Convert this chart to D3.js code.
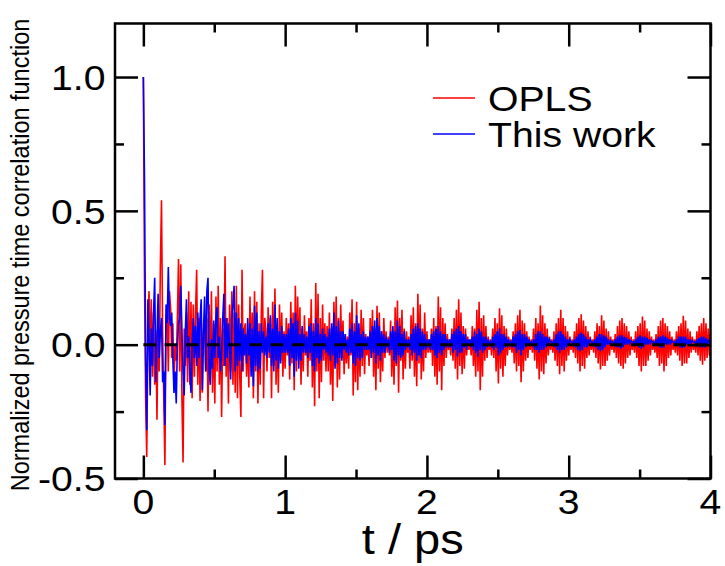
<!DOCTYPE html>
<html>
<head>
<meta charset="utf-8">
<script src="https://cdn.jsdelivr.net/npm/d3@7"></script>
<style>
  body { margin: 0; background: #fff; }
  text { font-family: "Liberation Sans", Arial, Helvetica, sans-serif; fill: #000; }
</style>
</head>
<body>
<script>
// sampling step of both correlation functions (ps)
const dt = 0.008;

// OPLS, one row per beat (18 samples)
const oplsValues = [
  1.0,.25,-.2,-.42,.05,.2,-.05,.17,-.12,.12,-.15,.05,-.28,.1,-.1,.3,.54,.05,
  -.2,-.45,.1,.15,-.1,.2,.14,-.05,.08,-.15,0,-.06,.1,.32,-.1,.3,-.2,-.44,
  .06,-.08,.12,-.14,.2,-.15,.16,-.2,.15,-.12,.12,.28,-.15,.1,-.21,.12,-.18,.05,
  .05,-.1,.1,-.25,.15,-.12,.2,-.18,.08,-.22,.18,-.1,.22,-.15,.1,-.27,.06,-.08,
  .33,-.12,.1,-.22,.15,-.1,.2,-.15,.12,-.18,.22,-.2,.15,-.12,-.27,.28,-.1,.06,
  .08,-.12,.05,-.16,.18,-.06,.12,-.2,.2,-.1,.16,-.22,.08,-.15,.12,.28,-.2,.1,
  .06,-.1,.14,-.05,.1,-.2,.16,-.08,.21,-.15,.07,-.18,.15,-.06,.12,-.12,.05,-.09,
  .1,-.04,.08,-.13,.16,-.07,.12,-.17,.22,-.1,.18,-.05,.14,-.15,.06,-.1,.11,-.04,
  .05,-.12,.1,-.06,.17,-.16,.08,-.23,.23,-.1,.19,-.2,.1,-.14,.15,-.06,.08,-.1,
  .07,-.1,.12,-.15,.06,-.21,.16,-.08,.18,-.16,.1,-.13,.15,-.05,.09,-.11,.04,-.07,
  .03,-.09,.12,-.04,.17,-.19,.08,-.14,.16,-.17,.06,-.12,.13,-.08,.1,-.11,.04,-.04,
  .03,-.08,.1,-.05,.13,-.12,.06,-.17,.145,-.09,.12,-.14,.05,-.1,.1,-.05,.05,-.03,
  .03,-.04,.09,-.12,.05,-.15,.14,-.08,.165,-.18,.1,-.06,.13,-.13,.06,-.09,.05,-.03,
  .03,-.09,.11,-.06,.14,-.12,.08,-.155,.19,-.07,.15,-.13,.06,-.1,.12,-.05,.05,-.03,
  .02,-.03,.06,-.08,.1,-.12,.07,-.15,.18,-.1,.14,-.17,.1,-.08,.08,-.05,.04,-.02,
  .02,-.04,.06,-.06,.1,-.09,.13,-.13,.17,-.08,.12,-.11,.07,-.09,.06,-.04,.03,-.02,
  .02,-.04,.07,-.08,.06,-.12,.13,-.1,.16,-.17,.1,-.12,.11,-.06,.07,-.05,.03,-.02,
  .02,-.04,.06,-.05,.1,-.1,.08,-.145,.136,-.09,.11,-.12,.07,-.08,.06,-.04,.03,-.02,
  .02,-.03,.05,-.07,.08,-.1,.11,-.08,.13,-.14,.09,-.1,.08,-.06,.05,-.05,.03,-.02,
  .02,-.03,.06,-.06,.1,-.09,.08,-.13,.146,-.1,.11,-.11,.08,-.07,.06,-.04,.03,-.02,
  .02,-.03,.05,-.06,.08,-.08,.1,-.11,.13,-.08,.1,-.1,.07,-.06,.05,-.04,.03,-.02,
  .02,-.03,.05,-.05,.08,-.07,.1,-.1,.114,-.08,.09,-.09,.07,-.05,.05,-.04,.03,-.02,
  .02,-.03,.05,-.05,.08,-.07,.07,-.093,.11,-.08,.09,-.08,.06,-.06,.05,-.04,.03,-.02,
  .02,-.03,.04,-.05,.07,-.07,.09,-.08,.1,-.09,.08,-.07,.07,-.05,.05,-.04,.03,-.02,
  .02,-.03,.05,-.05,.07,-.08,.08,-.1,.105,-.08,.09,-.08,.06,-.06,.05,-.04,.03,-.02,
  .02,-.03,.04,-.05,.07,-.08,.09,-.07,.1,-.1,.08,-.08,.07,-.05,.05,-.04,.03,-.02,
  .02,-.03,.05,-.04,.07,-.06,.08,-.08,.108,-.07,.09,-.07,.06,-.05,.05,-.03,.03,-.02,
  .02,-.03,.05,-.04,.07,-.06,.08,-.075,.1,-.06,.08,-.05,.06,-.04,.04
];

// This work
const thisWorkValues = [
  1.0,.62,-.05,-.32,.17,.02,-.19,.06,-.08,.12,.25,-.14,.02,.19,-.05,.05,.1,-.14,
  -.1,-.3,.15,.08,.29,.1,.07,.12,-.05,-.18,-.1,-.22,0,.08,.1,.22,.05,-.1,
  -.19,.05,.17,-.05,.03,-.1,-.18,0,.1,-.05,.07,-.08,.12,-.05,.1,.17,-.17,.05,
  .18,-.1,.2,.25,-.1,-.15,.02,-.09,.09,-.05,.1,.14,-.05,.03,-.1,-.03,.1,.19,
  -.08,.1,-.05,.08,-.01,-.13,.1,.15,.22,-.1,.12,-.08,.1,-.06,.08,-.1,.06,-.04,
  .04,-.07,.1,-.04,.08,-.12,.06,-.155,.145,-.08,.12,-.1,.05,-.09,.08,-.03,.05,-.04,
  .03,-.05,.08,-.03,.11,-.08,.06,-.1,.15,-.06,.1,-.09,.05,-.07,.07,-.03,.04,-.03,
  .04,-.03,.06,-.08,.1,-.05,.08,-.12,.12,-.06,.09,-.09,.04,-.06,.07,-.03,.04,-.03,
  .03,-.05,.07,-.03,.08,-.08,.05,-.1,.1,-.05,.08,-.07,.04,-.06,.06,-.02,.04,-.03,
  .03,-.04,.06,-.06,.08,-.04,.12,-.09,.07,-.07,.09,-.05,.05,-.06,.05,-.02,.04,-.03,
  .02,-.04,.06,-.03,.08,-.07,.05,-.08,.11,-.05,.08,-.06,.04,-.05,.05,-.02,.03,-.02,
  .03,-.02,.05,-.05,.07,-.03,.09,-.07,.1,-.04,.07,-.06,.05,-.03,.04,-.03,.03,-.01,
  .02,-.03,.05,-.02,.07,-.06,.05,-.07,.09,-.04,.07,-.05,.04,-.04,.05,-.02,.02,-.01,
  .02,-.02,.04,-.04,.06,-.03,.07,-.06,.08,-.04,.06,-.05,.05,-.02,.04,-.02,.02,-.01,
  .02,-.02,.04,-.02,.05,-.04,.06,-.05,.07,-.03,.05,-.04,.04,-.02,.04,-.01,.02,-.01,
  .02,-.01,.04,-.03,.05,-.02,.06,-.045,.07,-.03,.05,-.03,.04,-.01,.04,-.02,.02,0,
  .02,-.01,.03,-.02,.05,-.03,.04,-.045,.06,-.02,.05,-.03,.03,-.02,.03,-.01,.02,0,
  .01,-.01,.03,-.02,.04,-.01,.05,-.04,.06,-.03,.04,-.02,.04,-.01,.03,-.01,.02,0,
  .01,-.01,.03,-.01,.04,-.03,.05,-.02,.055,-.04,.04,-.02,.04,-.01,.03,0,.02,0,
  .01,0,.02,-.02,.04,-.02,.05,-.03,.05,-.02,.04,-.02,.03,-.01,.03,0,.02,.01,
  .01,0,.02,-.01,.04,-.02,.05,-.03,.05,-.02,.04,-.02,.03,-.01,.02,0,.02,.01,
  .01,0,.02,-.01,.03,-.02,.04,-.025,.045,-.02,.04,-.01,.03,-.01,.02,0,.02,.01,
  .01,0,.02,-.01,.03,-.02,.04,-.025,.04,-.02,.035,-.01,.03,0,.02,0,.015,.01,
  .01,0,.02,-.01,.03,-.01,.035,-.015,.035,-.01,.03,0,.025,0,.02,.005,.015,.01,
  .01,0,.02,0,.03,-.01,.035,-.015,.03,-.01,.03,0,.025,0,.02,.005,.015,.01,
  .01,0,.02,0,.03,-.01,.03,-.012,.035,-.01,.03,0,.025,0,.02,.005,.015,.01,
  .01,0,.02,0,.03,-.01,.03,-.012,.03,-.01,.03,0,.02,0,.02,.005,.015,.01,
  .01,0,.02,0,.025,-.01,.03,-.01,.03,-.01,.025,0,.02,0,.015
];

const seriesNames = ['OPLS', 'This work'];
const seriesColors = ['#ff0000', '#0000ff'];
const xTicks = [0, 1, 2, 3, 4];
const xMinorTicks = [0.5, 1.5, 2.5, 3.5];
const yTicks = [-0.5, 0, 0.5, 1.0];
const yMinorTicks = [-0.25, 0.25, 0.75];
const xLabel = 't / ps';
const yLabel = 'Normalized pressure time correlation function';

const w = 725, h = 566;
const padL = 115, padR = 710.5, padT = 23.5, padB = 478.5;
const sx = 1.12; // the glyphs in the picture are a little wide

const svg = d3.select('body').append('svg')
  .attr('width', w)
  .attr('height', h);

const xScale = d3.scaleLinear().domain([-0.2, 4]).range([padL, padR]);
const yScale = d3.scaleLinear().domain([-0.5, 1.2]).range([padB, padT]);

svg.append('clipPath').attr('id', 'plot-clip')
  .append('rect')
  .attr('x', padL).attr('y', padT)
  .attr('width', padR - padL).attr('height', padB - padT);

const line = d3.line()
  .x(d => xScale(d[0]))
  .y(d => yScale(d[1]));

const series = [oplsValues, thisWorkValues].map(vals => vals.map((v, i) => [i * dt, v]));

const plot = svg.append('g').attr('clip-path', 'url(#plot-clip)');
series.forEach((s, k) => {
  plot.append('path')
    .datum(s)
    .attr('fill', 'none')
    .attr('stroke', seriesColors[k])
    .attr('stroke-width', 1.6)
    .attr('d', line);
});

// dashed zero line
plot.append('line')
  .attr('x1', xScale(0)).attr('x2', xScale(4))
  .attr('y1', yScale(0)).attr('y2', yScale(0))
  .attr('stroke', '#000')
  .attr('stroke-width', 3)
  .attr('stroke-dasharray', '12.7 8.5');

// axes on all four sides, ticks pointing inwards
const major = 23, minor = 9;
const addAxis = (axis, tr, size, vals) => {
  const g = svg.append('g')
    .attr('transform', tr)
    .call(axis.tickValues(vals).tickSize(size).tickFormat(''));
  g.select('.domain').remove();
  g.selectAll('.tick line').attr('stroke', '#000').attr('stroke-width', 2.5);
  return g;
};
addAxis(d3.axisTop(xScale), `translate(0,${padB})`, major, xTicks);
addAxis(d3.axisTop(xScale), `translate(0,${padB})`, minor, xMinorTicks);
addAxis(d3.axisBottom(xScale), `translate(0,${padT})`, major, xTicks);
addAxis(d3.axisBottom(xScale), `translate(0,${padT})`, minor, xMinorTicks);
addAxis(d3.axisRight(yScale), `translate(${padL},0)`, major, yTicks);
addAxis(d3.axisRight(yScale), `translate(${padL},0)`, minor, yMinorTicks);
addAxis(d3.axisLeft(yScale), `translate(${padR},0)`, major, yTicks);
addAxis(d3.axisLeft(yScale), `translate(${padR},0)`, minor, yMinorTicks);

svg.append('rect')
  .attr('x', padL).attr('y', padT)
  .attr('width', padR - padL).attr('height', padB - padT)
  .attr('fill', 'none')
  .attr('stroke', '#000')
  .attr('stroke-width', 2.5);

// tick labels
svg.selectAll('.xlab')
  .data(xTicks)
  .enter().append('text')
  .attr('class', 'xlab')
  .attr('transform', d => `translate(${xScale(d)},513.5) scale(${sx},1)`)
  .attr('text-anchor', 'middle')
  .style('font-size', '35px')
  .text(d => d);

svg.selectAll('.ylab')
  .data(yTicks)
  .enter().append('text')
  .attr('class', 'ylab')
  .attr('transform', d => `translate(105.5,${yScale(d) + 12.8}) scale(${sx},1)`)
  .attr('text-anchor', 'end')
  .style('font-size', '35px')
  .text(d => d3.format('.1f')(d).replace('−', '-'));

// axis titles
svg.append('text')
  .attr('transform', `translate(${(padL + padR) / 2},554) scale(${sx},1)`)
  .attr('text-anchor', 'middle')
  .style('font-size', '42px')
  .text(xLabel);

svg.append('text')
  .attr('transform', `translate(29,${(padT + padB) / 2 + 4}) scale(${sx},1) rotate(-90)`)
  .attr('text-anchor', 'middle')
  .style('font-size', '23.5px')
  .text(yLabel);

// legend
const legendY = [98, 134];
seriesNames.forEach((name, k) => {
  svg.append('line')
    .attr('x1', 433).attr('x2', 475)
    .attr('y1', legendY[k]).attr('y2', legendY[k])
    .attr('stroke', seriesColors[k])
    .attr('stroke-width', 1.5);
  svg.append('text')
    .attr('transform', `translate(488,${legendY[k] + 12.5}) scale(${sx},1)`)
    .style('font-size', '35px')
    .text(name);
});
</script>
</body>
</html>
